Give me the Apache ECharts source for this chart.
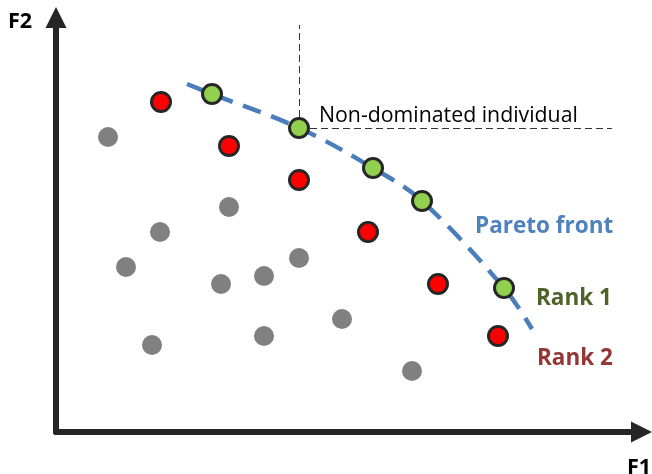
<!DOCTYPE html>
<html>
<head>
<meta charset="utf-8">
<script src="https://cdn.jsdelivr.net/npm/echarts@6/dist/echarts.min.js"></script>
<style>html,body{margin:0;padding:0;background:#fff;}#c{width:652px;height:474px;}</style>
</head>
<body>
<div id="c"></div>
<script>
// Dominated (other) individuals: [F1, F2]
var grayPoints = [[52,295],[104,200],[173,225],[70,165],[165,148],[208,156],[243,174],[96,87],[208,96],[286,113],[356,61]];
// Rank 2 individuals
var rank2Points = [[105,330],[173,286],[243,252],[312,200],[382,148],[442,96]];
// Rank 1 (non-dominated) individuals
var rank1Points = [[156,338],[243,304],[317,264],[366,231],[448,144]];
// Pareto front curve
var frontF1 = [131,156,243,317,366,448,476];
var frontF2 = [348,338,304,264,231,144,103];
// Highlighted non-dominated individual and guide ends
var highlight = [243,304];
var guideTopF2 = 407;
var guideRightF1 = 556;
var xMax = 585.5, yMax = 414.5;

var chart = echarts.init(document.getElementById('c'), null, {renderer:'canvas'});
var frontData = frontF1.map(function(x,i){return [x, frontF2[i]];});
var axisCommon = {
  type:'value', min:0,
  axisLine:{show:true, symbol:['none','triangle'], symbolSize:[21,21], lineStyle:{color:'#262626', width:6}},
  axisTick:{show:false}, axisLabel:{show:false}, splitLine:{show:false}
};
var dotBorder = {borderColor:'#262626', borderWidth:3, opacity:1};
function txt(x, y, s, font, color){
  return {type:'text', x:x, y:y, style:{text:s, font:font, fill:color, textAlign:'left', textVerticalAlign:'middle', verticalAlign:'middle'}};
}
chart.setOption({
  animation:false,
  grid:{left:56, right:10.5, top:17.5, bottom:42},
  xAxis: Object.assign({}, axisCommon, {max:xMax}),
  yAxis: Object.assign({}, axisCommon, {max:yMax}),
  series:[
    {type:'scatter', data:grayPoints, symbolSize:20, itemStyle:{color:'#808080', opacity:1}, z:2},
    {type:'line', data:frontData, smooth:0.35, symbol:'none',
     lineStyle:{color:'#4a7ebb', width:4.5, type:[19,11], cap:'butt'}, z:3},
    {type:'scatter', data:rank2Points, symbolSize:19, itemStyle:Object.assign({color:'#ff0000'}, dotBorder), z:4},
    {type:'scatter', data:rank1Points, symbolSize:19, itemStyle:Object.assign({color:'#92d050'}, dotBorder), z:5,
     markLine:{silent:true, symbol:'none', label:{show:false},
       lineStyle:{color:'#333', width:1, type:[7,4]},
       data:[
         [{coord:highlight},{coord:[highlight[0], guideTopF2]}],
         [{coord:highlight},{coord:[guideRightF1, highlight[1]]}]
       ]}
    }
  ],
  graphic:[
    txt(8, 21.5, 'F2', 'bold 21.5px "Open Sans"', '#000'),
    txt(627, 468, 'F1', 'bold 21.5px "Open Sans"', '#000'),
    txt(319, 115.5, 'Non-dominated individual', '21.3px "Open Sans"', '#000'),
    txt(475, 226.3, 'Pareto front', 'bold 22.5px "Open Sans"', '#4f81bd'),
    txt(536, 298.3, 'Rank 1', 'bold 22.5px "Open Sans"', '#4f6228'),
    txt(537, 358.5, 'Rank 2', 'bold 22.5px "Open Sans"', '#953735')
  ]
});
</script>
</body>
</html>
